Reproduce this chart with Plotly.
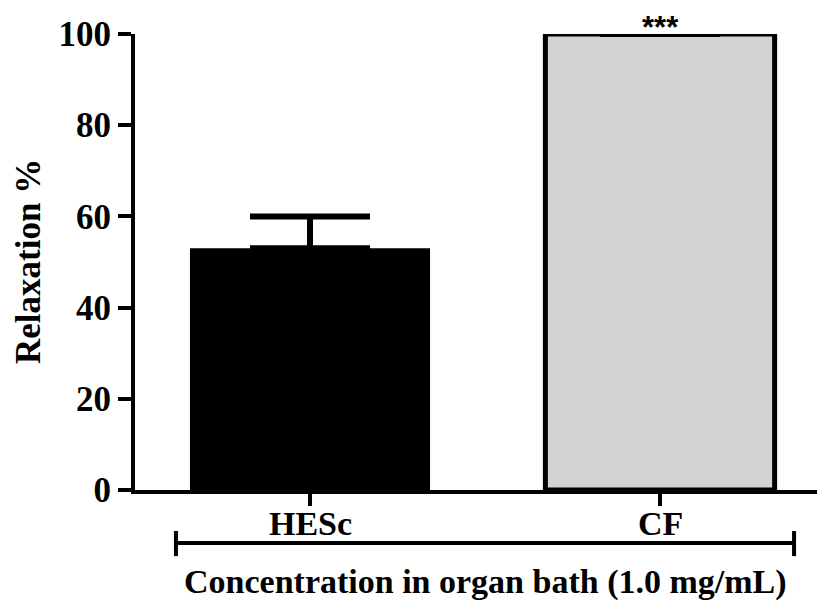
import plotly.graph_objects as go

categories = ["HESc", "CF"]
relaxation = [53, 100]
sem_upper = [7, 0]
bar_colors = ["#000000", "#d3d3d3"]
y_ticks = [0, 20, 40, 60, 80, 100]
significance = "***"
x_title = "Concentration in organ bath (1.0 mg/mL)"
y_title = "Relaxation %"

serif = "Liberation Serif, Times New Roman, serif"

fig = go.Figure()
fig.add_trace(go.Bar(
    x=categories,
    y=relaxation,
    width=[0.686, 0.655],
    marker=dict(color=bar_colors, line=dict(color="black", width=[0, 5])),
    error_y=dict(type="data", symmetric=False, array=sem_upper,
                 arrayminus=[0, 0], color="black", thickness=6, width=60,
                 visible=True),
    cliponaxis=False,
    showlegend=False,
))

# significance marker above CF
fig.add_annotation(x=categories[1], xref="x", y=1.055, yref="paper", text=significance,
                   showarrow=False, yanchor="top", borderpad=0,
                   font=dict(family="Liberation Sans, Arial, sans-serif", size=31,
                             color="black", weight="bold"))

# category labels
for c in categories:
    fig.add_annotation(x=c, xref="x", y=-0.0724, yref="paper", text=c,
                       showarrow=False, yanchor="middle",
                       font=dict(family=serif, size=34, color="black", weight="bold"))

# bracket under the categories
bx0, bx1 = 0.5 - 0.883, 0.5 + 0.883
by = -0.116
fig.add_shape(type="line", xref="x", yref="paper", x0=bx0, x1=bx1, y0=by, y1=by,
              line=dict(color="black", width=4))
for bx in (bx0, bx1):
    fig.add_shape(type="line", xref="x", yref="paper", x0=bx, x1=bx,
                  y0=-0.145, y1=-0.090, line=dict(color="black", width=4))

fig.add_annotation(x=0.5, xref="x", y=-0.202, yref="paper", text=x_title,
                   showarrow=False, yanchor="middle",
                   font=dict(family=serif, size=34, color="black", weight="bold"))

fig.add_annotation(x=0, xref="paper", xshift=-107, y=0.5, yref="paper", text=y_title,
                   textangle=-90, showarrow=False, xanchor="center", yanchor="middle",
                   font=dict(family=serif, size=35, color="black", weight="bold"))

fig.update_layout(
    width=817, height=596,
    margin=dict(l=127, r=0, t=26, b=114, autoexpand=False),
    plot_bgcolor="white", paper_bgcolor="white",
    xaxis=dict(range=[-0.5, 1.4714], showline=True, linecolor="black", linewidth=4,
               ticks="outside", ticklen=12, tickwidth=4, tickcolor="black",
               showticklabels=False,
               showgrid=False, zeroline=False, fixedrange=True, automargin=False),
    yaxis=dict(range=[0, 100], tickvals=y_ticks, showline=True, linecolor="black",
               linewidth=4, ticks="outside", ticklen=13, tickwidth=4, tickcolor="black",
               tickfont=dict(family=serif, size=35, color="black", weight="bold"),
               showgrid=False, zeroline=False, fixedrange=True, automargin=False),
    bargap=0.3,
)

fig.write_html("out.html")
